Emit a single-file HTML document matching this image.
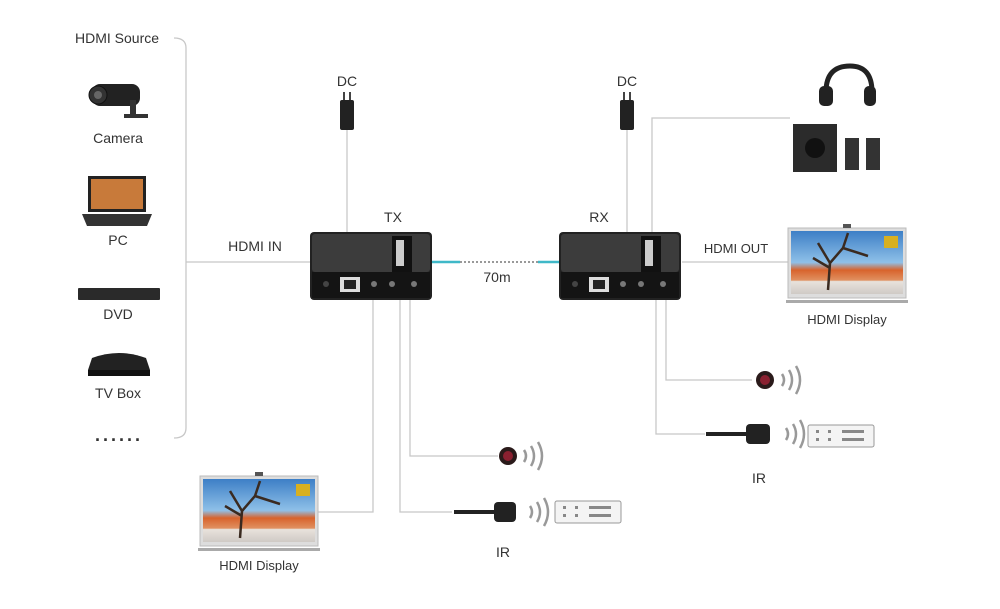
<!DOCTYPE html>
<html><head><style>
body{margin:0;background:#fff}
svg text{font-family:"Liberation Sans",sans-serif;fill:#333}
</style></head><body>
<svg width="1000" height="604" viewBox="0 0 1000 604" xmlns="http://www.w3.org/2000/svg">
<defs>
<linearGradient id="sky" x1="0" y1="0" x2="0" y2="1"><stop offset="0" stop-color="#3d7fc6"/><stop offset="0.5" stop-color="#8fc0e8"/><stop offset="0.62" stop-color="#d8632c"/><stop offset="0.78" stop-color="#e09060"/><stop offset="0.8" stop-color="#e8e2dc"/><stop offset="1" stop-color="#cfcac5"/></linearGradient>
<g id="tv">
<rect x="0" y="0" width="118" height="70" fill="#ddd" stroke="#bbb"/>
<rect x="3" y="3" width="112" height="63" fill="url(#sky)"/>
<path d="M40 62 L42 35 L30 15 M42 35 L55 20 L60 5 M55 20 L80 28 M42 40 L25 30" stroke="#3a2a20" stroke-width="2.5" fill="none"/>
<rect x="96" y="8" width="14" height="12" fill="#d8b020"/>
<rect x="55" y="-4" width="8" height="4" fill="#555"/>
<rect x="-2" y="72" width="122" height="3" fill="#aaa"/>
</g>
<g id="box">
<rect x="0" y="0" width="122" height="68" rx="4" fill="#222"/>
<rect x="2" y="2" width="118" height="38" rx="3" fill="#3c3c3c"/>
<rect x="82" y="4" width="20" height="36" fill="#111"/>
<rect x="86" y="8" width="8" height="26" fill="#ccc"/>
<rect x="2" y="40" width="118" height="26" fill="#141414"/>
<rect x="30" y="45" width="20" height="15" fill="#ddd"/><rect x="34" y="48" width="12" height="9" fill="#222"/>
<circle cx="16" cy="52" r="3" fill="#444"/>
<circle cx="64" cy="52" r="3" fill="#777"/><circle cx="82" cy="52" r="3" fill="#777"/><circle cx="104" cy="52" r="3" fill="#777"/>
</g>
<g id="remote"><rect x="0" y="0" width="66" height="22" rx="2" fill="#f4f4f4" stroke="#999"/>
<g fill="#888"><rect x="8" y="5" width="3" height="3"/><rect x="8" y="13" width="3" height="3"/><rect x="20" y="5" width="3" height="3"/><rect x="20" y="13" width="3" height="3"/><rect x="34" y="5" width="22" height="3"/><rect x="34" y="13" width="22" height="3"/></g></g>
<g id="waves" fill="none" stroke="#999" stroke-width="2.5"><path d="M0 -6 Q4 0 0 6"/><path d="M7 -10 Q13 0 7 10"/><path d="M14 -14 Q22 0 14 14"/></g>
<g id="dc"><rect x="-7" y="0" width="14" height="30" rx="2" fill="#222"/><rect x="-4" y="-8" width="2" height="8" fill="#444"/><rect x="2" y="-8" width="2" height="8" fill="#444"/></g>
</defs>

<g stroke="#c8c8c8" stroke-width="1.3" fill="none">
<path d="M174 38 Q186 38 186 48 V428 Q186 438 174 438"/>
<path d="M186 262 H312"/>
<path d="M347 128 V232"/><path d="M627 128 V232"/>
<path d="M652 232 V118 H790"/>
<path d="M682 262 H790"/>
<path d="M373 300 V512 H318"/>
<path d="M410 300 V456 H498"/>
<path d="M400 300 V512 H452"/>
<path d="M666 300 V380 H752"/>
<path d="M656 300 V434 H705"/>
</g>
<path d="M432 262 H460 M538 262 H562" stroke="#3fb8c8" stroke-width="2.5"/>
<path d="M460 262 H538" stroke="#999" stroke-width="2" stroke-dasharray="2 2"/>

<text x="75" y="43" font-size="14">HDMI Source</text>
<text x="118" y="143" font-size="14" text-anchor="middle">Camera</text>
<text x="118" y="245" font-size="14" text-anchor="middle">PC</text>
<text x="118" y="319" font-size="14" text-anchor="middle">DVD</text>
<text x="118" y="398" font-size="14" text-anchor="middle">TV Box</text>
<text x="119" y="441" font-size="18" font-weight="bold" text-anchor="middle" letter-spacing="3">......</text>
<text x="255" y="251" font-size="14" text-anchor="middle">HDMI IN</text>
<text x="347" y="86" font-size="14" text-anchor="middle">DC</text>
<text x="627" y="86" font-size="14" text-anchor="middle">DC</text>
<text x="393" y="222" font-size="14" text-anchor="middle">TX</text>
<text x="599" y="222" font-size="14" text-anchor="middle">RX</text>
<text x="497" y="282" font-size="14" text-anchor="middle">70m</text>
<text x="736" y="253" font-size="13" text-anchor="middle">HDMI OUT</text>
<text x="847" y="324" font-size="13" text-anchor="middle">HDMI Display</text>
<text x="259" y="570" font-size="13" text-anchor="middle">HDMI Display</text>
<text x="503" y="557" font-size="14" text-anchor="middle">IR</text>
<text x="759" y="483" font-size="14" text-anchor="middle">IR</text>

<use href="#dc" x="347" y="100"/><use href="#dc" x="627" y="100"/>
<use href="#box" x="310" y="232"/><use href="#box" x="559" y="232"/>
<use href="#tv" x="788" y="228"/><use href="#tv" x="200" y="476"/>

<g><rect x="92" y="84" width="48" height="22" rx="8" fill="#222"/><circle cx="98" cy="95" r="9" fill="#333" stroke="#111"/><circle cx="98" cy="95" r="4" fill="#666"/><rect x="130" y="100" width="6" height="18" fill="#333"/><rect x="124" y="114" width="24" height="4" fill="#333"/></g>
<g><rect x="88" y="176" width="58" height="36" fill="#222"/><rect x="91" y="179" width="52" height="30" fill="#c87a3a"/><path d="M82 214 H152 L147 226 H87Z" fill="#333"/></g>
<rect x="78" y="288" width="82" height="12" rx="1" fill="#2a2a2a"/>
<g><rect x="88" y="370" width="62" height="6" fill="#111"/><path d="M92 358 Q119 348 146 358 L150 370 H88Z" fill="#222"/></g>
<g fill="none" stroke="#222" stroke-width="5"><path d="M826 92 Q826 66 850 66 Q872 66 872 92"/></g>
<rect x="819" y="86" width="14" height="20" rx="5" fill="#222"/><rect x="864" y="86" width="12" height="20" rx="5" fill="#222"/>
<rect x="793" y="124" width="44" height="48" fill="#2b2b2b"/><circle cx="815" cy="148" r="10" fill="#111"/>
<rect x="845" y="138" width="14" height="32" fill="#333"/><rect x="866" y="138" width="14" height="32" fill="#333"/>
<circle cx="508" cy="456" r="9" fill="#2a1a1a"/><circle cx="508" cy="456" r="5" fill="#8a2030"/>
<use href="#waves" x="524" y="456"/>
<rect x="454" y="510" width="40" height="4" fill="#222"/><rect x="494" y="502" width="22" height="20" rx="4" fill="#222"/>
<use href="#waves" x="530" y="512"/><use href="#remote" x="555" y="501"/>
<circle cx="765" cy="380" r="9" fill="#2a1a1a"/><circle cx="765" cy="380" r="5" fill="#8a2030"/>
<use href="#waves" x="782" y="380"/>
<rect x="706" y="432" width="40" height="4" fill="#222"/><rect x="746" y="424" width="24" height="20" rx="4" fill="#222"/>
<use href="#waves" x="786" y="434"/><use href="#remote" x="808" y="425"/>
</svg>
</body></html>
